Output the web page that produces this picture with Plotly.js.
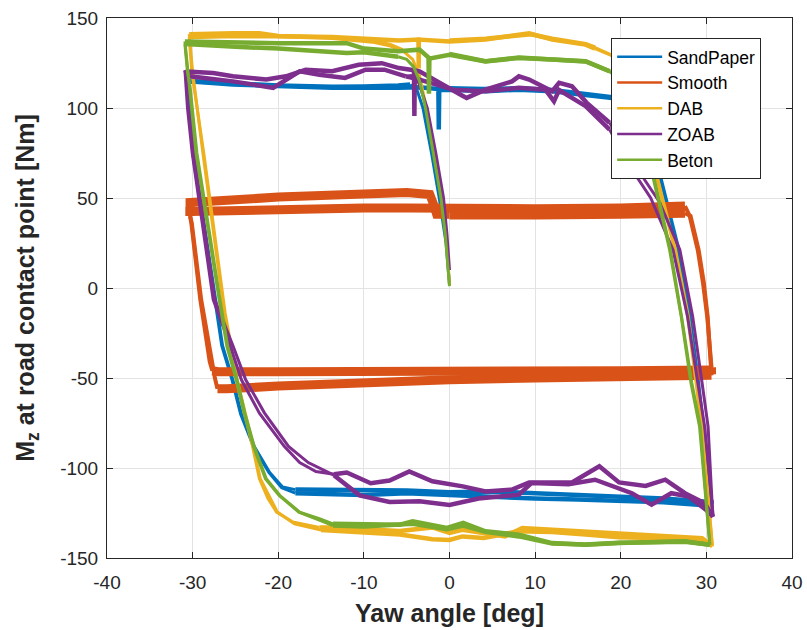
<!DOCTYPE html>
<html>
<head>
<meta charset="utf-8">
<script src="https://cdn.plot.ly/plotly-3.0.1.min.js"></script>
<style>html,body{margin:0;padding:0;background:#fff;}#chart{width:807px;height:630px;}</style>
</head>
<body>
<div id="chart"></div>
<script>
// Series names and MATLAB default colours
const seriesNames = ["SandPaper", "Smooth", "DAB", "ZOAB", "Beton"];
const seriesColors = ["#0072BD", "#D95319", "#EDB120", "#7E2F8E", "#77AC30"];

// Tick labels
const xTickVals = [-40, -30, -20, -10, 0, 10, 20, 30, 40];
const xTickText = ["-40", "-30", "-20", "-10", "0", "10", "20", "30", "40"];
const yTickVals = [-150, -100, -50, 0, 50, 100, 150];
const yTickText = ["-150", "-100", "-50", "0", "50", "100", "150"];

// "Flat" = saturated (noisy) plateau passes, "Ramp" = transitions; null separates passes.
const sandPaperRamp = [
  [0,2],[-0.4,25],[-1.2,50],[-2.1,75],[-3.1,100],[-3.8,110],[-4.6,113], null,
  [-30.6,115],[-30.3,100],[-29.9,75],[-27.3,-6.5],[-26.5,-32],[-25.3,-51],[-24.3,-70],[-22.8,-88],[-21.0,-102.5],[-19.5,-110.5],[-18,-112], null,
  [30.6,-120],[30.0,-90],[29.0,-52.8],[28.0,-15.8],[26.7,21.3],[24.5,63],[23.5,85],[22.5,97],[21,103],[19,105.5], null,
  [-30.5,114.8],[-30.3,100],[-30.0,75],[-27.4,-6.5],[-26.6,-32],[-25.4,-51],[-24.4,-70],[-22.9,-88],[-21.1,-102.5],[-19.6,-111],[-18,-114], null,
  [30.6,-121],[30.0,-91],[29.1,-52.8],[28.1,-15.8],[26.8,21.3],[24.6,63],[23.6,85],[22.6,97],[21,103.5],[19,106]
];
const sandPaperFlat = [
  [-4.6,113],[-6,112.5],[-10,112],[-13.7,111.8],[-20,112.5],[-25.3,113.5],[-30.6,115], null,
  [-18,-112],[-15,-112],[-10,-112.5],[-5,-112.5],[0,-113.5],[5,-113],[10,-114],[15,-115],[20,-116],[25,-117],[30.6,-119],[30.6,-120], null,
  [19,105.5],[15.9,107.4],[12,109.3],[8.1,110.2],[4.2,109.3],[0,110.2],[-1.2,110],[-1.25,88],[-1.3,110.5],[-3.5,111.5],[-6,111.2],[-13.7,111.2],[-20,112.1],[-25.3,113],[-30.5,114.8], null,
  [-18,-114],[-15,-114.5],[-10,-115],[-5,-114],[0,-115],[5,-116.5],[10,-117],[15,-117.5],[20,-118.5],[25,-119],[30.6,-121], null,
  [19,106],[15.9,108],[12,110],[8,111],[4,110.5],[0,111]
];

const smoothRamp = [
  [-30.3,40],[-30.15,36],[-29.1,-6.5],[-28.6,-23],[-28.0,-41],[-27.7,-46], null,
  [30.6,-44],[30.4,-34],[30.1,-16],[29.6,3],[29.0,21],[28.05,40],[27.5,45.5], null,
  [-30.3,40],[-30.1,36],[-29.0,-6.5],[-28.4,-23],[-27.8,-41],[-27.4,-50],[-27.1,-56], null,
  [30.6,-48.5],[30.45,-34],[30.15,-16],[29.7,3],[29.1,21],[28.15,40],[27.5,41.5]
];
const smoothFlat = [
  [0,41],[-1.5,41],[-1.9,47],[-2.3,52],[-5,53],[-10,52.5],[-15,51.5],[-20,50.5],[-25,49],[-30.3,47.5],[-30.3,40], null,
  [-27.7,-46],[-27,-46.5],[-20,-46.5],[-10,-46.5],[0,-47],[10,-46.5],[20,-46],[30.6,-45.5],[30.6,-44], null,
  [27.5,45.5],[27,45.5],[20,44.5],[10,44],[0,43.5],[-5,44.5],[-10,44.5],[-20,44],[-30.3,42.5],[-30.3,40], null,
  [-27.1,-56],[-26,-56],[-20,-54.5],[-10,-52.5],[0,-51],[10,-50],[20,-49],[30.6,-48.5], null,
  [27.5,41.5],[25,41],[20,41],[10,40.5],[0,40.5]
];

const dabRamp = [
  [0,2],[-0.4,30],[-0.9,50],[-1.8,75],[-2.7,100],[-3.5,118],[-4.3,127],[-5.5,132], null,
  [-30.4,141],[-30.0,120],[-28.8,75],[-26.8,4.6],[-26.3,-13.9],[-24.9,-51],[-23.0,-88],[-22.2,-106],[-21.2,-117],[-20.2,-124.5],[-18.3,-130],[-15.2,-133], null,
  [30.7,-143.5],[29.4,-76.9],[28.8,-52.8],[27.8,-15.8],[26.3,21.3],[24.1,63],[23,95],[21.5,118],[19.5,128],[17,133], null,
  [-30.4,139.5],[-30.1,120],[-28.7,75],[-26.7,4.6],[-26.2,-13.9],[-24.8,-51],[-22.9,-88],[-22.1,-106],[-20.1,-124.5],[-18.1,-131],[-15,-134.5], null,
  [30.7,-143],[29.5,-76.9],[28.9,-52.8],[27.9,-15.8],[26.4,21.3],[24.2,63],[23.1,95],[21.6,118],[19.6,128],[17,133.5]
];
const dabFlat = [
  [-5.5,132],[-7,135],[-9,137],[-13.7,139],[-20,140],[-22.2,141.5],[-25.3,141.5],[-30.4,141], null,
  [-15.2,-133],[-13.6,-133],[-10,-134],[-5.8,-135],[-2,-133],[0,-136],[1.5,-134.3],[4,-136],[6.5,-138],[8.5,-133.3],[12,-134.3],[15.9,-135],[19.8,-136],[25,-137.5],[29.5,-139],[30.7,-143.5], null,
  [17,133],[15.9,135.2],[12,138],[9.3,141.5],[8.1,140.7],[4.2,138],[0,137],[-3.5,138],[-3.58,138],[-3.6,122],[-3.62,138],[-5.9,137.5],[-9.8,138.5],[-13.7,139.5],[-20,139.8],[-25.3,140],[-30.4,139.5], null,
  [-15,-134.5],[-10,-136],[-5.8,-137],[-2,-139.6],[0,-140],[1.5,-138],[4,-138.9],[8,-135.2],[12,-135.5],[15.9,-137],[19.8,-138.5],[25,-139],[29.5,-140],[30.7,-143], null,
  [17,133.5],[15.9,135.5],[12,138.5],[9.5,141],[4.2,138.5],[0,137.5]
];

const zoabRamp = [
  [0,10],[-0.3,30],[-0.7,50],[-1.6,75],[-2.6,100],[-3.6,114],[-4.5,118],[-5.1,117.6], null,
  [-30.9,121],[-30.6,100],[-30.05,75],[-27.6,-6.5],[-25.6,-32.4],[-24.3,-51],[-22.2,-69.5],[-19.3,-88],[-17.5,-97],[-15.6,-102],[-13.5,-103.5], null,
  [30.75,-127],[30.2,-77],[29.5,-52.8],[28.4,-15.8],[26.9,21.3],[24.5,48],[22.8,60],[20.5,78],[18.7,91.8], null,
  [-30.75,120.3],[-30.5,100],[-29.9,75],[-27.4,-6.5],[-25.3,-32],[-23.8,-51],[-21.6,-69.5],[-18.8,-88],[-16.5,-97],[-13.5,-104], null,
  [30.8,-127],[29.8,-77],[29.0,-52.8],[27.8,-15.8],[26.1,21.3],[23.5,50],[21,68],[18.7,88]
];
const zoabFlat = [
  [-5.1,117.6],[-7.6,121.3],[-9.8,121.3],[-12.2,116.7],[-15.2,118.5],[-17.5,120.4],[-20.6,111.2],[-25.3,114.8],[-30.3,117.6],[-30.9,121], null,
  [-13.5,-103.5],[-12,-102.5],[-9.2,-108.5],[-7,-107],[-4.7,-101.9],[-2,-107.4],[1.55,-110.2],[4.2,-113],[7.3,-112],[9.3,-108],[14.3,-108],[17.5,-99],[19.8,-108],[22.9,-110],[25.2,-106.5],[27.5,-114],[29.8,-119.6],[30.75,-127], null,
  [18.7,91.8],[16,103],[14.3,112.1],[12.8,114],[12,109.3],[9.3,115.8],[8.1,117.6],[7.3,114.8],[4.2,110.2],[2,105.6],[1.2,107.6],[-1.2,114],[-3.5,120.4],[-4.05,121],[-4.1,95.6],[-4.15,121],[-5.9,122.2],[-7.9,124.9],[-10.6,124],[-13.7,120.4],[-16.8,121.3],[-19.1,117.6],[-21.4,115.8],[-25.3,117.6],[-27.6,119.4],[-30.75,120.3], null,
  [-13.5,-104],[-10.5,-115.2],[-7,-118.9],[-3.5,-118.5],[0,-120.5],[3.4,-117],[8.1,-114.8],[9.6,-108.3],[13.9,-109],[17,-106.5],[21.3,-114],[23.6,-120.4],[25.9,-114],[27.9,-115.8],[30.2,-124.1],[30.8,-127], null,
  [18.7,88],[15.9,101],[12.8,110],[12.2,103.7],[11.2,110.2],[8.1,111.2],[4.2,109.3],[0.4,110.2],[-3.5,115.8],[-5.1,117.6]
];

const betonRamp = [
  [0,1],[-0.5,30],[-1.0,50],[-1.9,75],[-2.8,100],[-3.5,115],[-4.2,123],[-5.0,127],[-6,128.5], null,
  [-30.9,135.5],[-30.6,120],[-30.3,112],[-29.5,75],[-26.8,-6.5],[-25.9,-32.4],[-24.8,-51],[-23.9,-69.5],[-22.8,-88],[-21.4,-106],[-19.8,-115.3],[-17.5,-124.5],[-15.2,-128.2],[-13.6,-131], null,
  [30.4,-142.6],[29.2,-76.9],[28.2,-52.8],[27.06,-15.8],[25.7,21.3],[23.7,63],[22.5,90],[21,108],[19.5,117],[18.7,120.4], null,
  [-30.9,137],[-30.4,112],[-29.6,75],[-26.9,-6.5],[-26.0,-32.4],[-24.9,-51],[-24.0,-69.5],[-22.9,-88],[-21.5,-106],[-19.9,-115.3],[-17.6,-124.5],[-15.2,-129],[-13.6,-132], null,
  [30.4,-142.6],[29.3,-76.9],[28.3,-52.8],[27.1,-15.8],[25.8,21.3],[23.8,63],[22.6,90],[21.1,108],[19.6,117],[18.7,120.4]
];
const betonFlat = [
  [-6,128.5],[-10,131],[-12,130.5],[-16,132],[-20,133],[-25,134],[-30.9,135.5], null,
  [-13.6,-131],[-10,-131.5],[-5.8,-131.5],[-4.3,-129.6],[-0.3,-133.3],[1.6,-130.5],[4.2,-135.2],[8.1,-137],[12,-141.7],[15.9,-142.6],[19.8,-141.7],[27.5,-140.7],[30.4,-142.6], null,
  [18.7,120.4],[15.9,125.9],[12,126.9],[8.1,127.8],[4.2,125.9],[0,129.6],[-2.35,127.5],[-2.4,108],[-2.45,128],[-3.5,132.4],[-6,131.5],[-10,133],[-12,136],[-20,136],[-25,136.5],[-30.9,137], null,
  [-13.6,-132],[-10,-132.5],[-4.3,-131],[-0.3,-134],[1.6,-132],[4.2,-135.5],[8.1,-138],[12,-142],[15.9,-142.5],[19.8,-141.5],[27.5,-141],[30.4,-142.6], null,
  [18.7,120.4],[15.9,126],[12,127],[8.1,128],[4.2,126],[0,130]
];

const seriesRamps = [sandPaperRamp, smoothRamp, dabRamp, zoabRamp, betonRamp];
const seriesFlats = [sandPaperFlat, smoothFlat, dabFlat, zoabFlat, betonFlat];

function xs(pts) { return pts.map(function (p) { return p ? p[0] : null; }); }
function ys(pts) { return pts.map(function (p) { return p ? p[1] : null; }); }

const traces = [];
seriesNames.forEach(function (n, i) {
  const isSmooth = (n === "Smooth");
  traces.push({
    x: xs(seriesFlats[i]), y: ys(seriesFlats[i]), type: "scatter", mode: "lines", name: n,
    connectgaps: false, line: { color: seriesColors[i], width: isSmooth ? 9 : 4.5 },
    showlegend: false, hoverinfo: "skip"
  });
  traces.push({
    x: xs(seriesRamps[i]), y: ys(seriesRamps[i]), type: "scatter", mode: "lines", name: n,
    connectgaps: false, line: { color: seriesColors[i], width: isSmooth ? 4 : 3 },
    showlegend: false, hoverinfo: "skip"
  });
});
// legend entries
seriesNames.forEach(function (n, i) {
  traces.push({
    x: [null], y: [null], type: "scatter", mode: "lines", name: n,
    line: { color: seriesColors[i], width: 2.5 }, showlegend: true
  });
});

const axisCommon = {
  ticks: "inside", ticklen: 6, tickcolor: "#262626", tickwidth: 1,
  showline: true, linecolor: "#262626", linewidth: 1, mirror: "ticks",
  showgrid: true, gridcolor: "#e3e3e3", gridwidth: 1, zeroline: false,
  tickfont: { size: 19, color: "#262626" }
};

const layout = {
  width: 807, height: 630,
  margin: { l: 107, r: 15, t: 18, b: 72 },
  paper_bgcolor: "#ffffff", plot_bgcolor: "#ffffff",
  font: { family: "Liberation Sans, Arial, sans-serif", color: "#262626" },
  showlegend: true,
  xaxis: Object.assign({}, axisCommon, {
    range: [-40, 40], tickmode: "array", tickvals: xTickVals, ticktext: xTickText,
    ticklabelstandoff: 7,
    title: { text: "<b>Yaw angle [deg]</b>", font: { size: 25, color: "#262626" }, standoff: 12 }
  }),
  yaxis: Object.assign({}, axisCommon, {
    range: [-150, 150], tickmode: "array", tickvals: yTickVals, ticktext: yTickText,
    ticklabelstandoff: 4,
    title: { text: "<b>M<sub>z</sub> at road contact point [Nm]</b>", font: { size: 25, color: "#262626" }, standoff: 18 }
  }),
  legend: {
    x: 0.736, y: 0.963, xanchor: "left", yanchor: "top",
    bgcolor: "#ffffff", bordercolor: "#262626", borderwidth: 1,
    font: { size: 17.5, color: "#000000" }, itemwidth: 45
  }
};

Plotly.newPlot("chart", traces, layout, { staticPlot: true, displayModeBar: false });
</script>
</body>
</html>
